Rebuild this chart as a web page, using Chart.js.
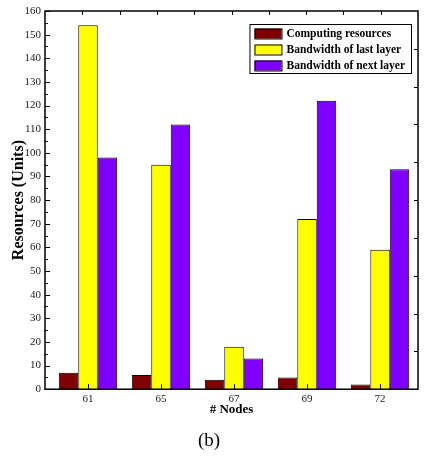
<!DOCTYPE html>
<html>
<head>
<meta charset="utf-8">
<script src="https://cdn.jsdelivr.net/npm/chart.js@4"></script>
<style>
  body { margin: 0; background: #fff; }
  #wrap { width: 425px; height: 462px; }
</style>
</head>
<body>
<div id="wrap"><canvas id="myChart" width="425" height="462"></canvas></div>
<script>
var nodes = ['61', '65', '67', '69', '72'];
var computing = [7, 6, 4, 5, 2];
var lastLayer = [154, 95, 18, 72, 59];
var nextLayer = [98, 112, 13, 122, 93];
var yTicks = { min: 0, max: 160, step: 10 };

var serif = "'Liberation Serif', 'Times New Roman', serif";

function toPoints(arr) {
  return arr.map(function (v, i) { return { x: i, y: v }; });
}

// frame, inward ticks and boxed legend inside the plot
var framePlugin = {
  id: 'frame',
  afterDraw: function (chart) {
    var ctx = chart.ctx;
    var a = chart.chartArea;
    var xs = chart.scales.x, ys = chart.scales.y;
    ctx.save();
    ctx.strokeStyle = '#000';
    ctx.lineWidth = 1;
    ctx.beginPath();
    // left ticks: major every 10, minor at 5
    for (var v = yTicks.min; v <= yTicks.max; v += yTicks.step / 2) {
      var py = Math.round(ys.getPixelForValue(v)) + 0.5;
      var len = (v % yTicks.step === 0) ? 5 : 3;
      ctx.moveTo(a.left, py); ctx.lineTo(a.left + len, py);
    }
    // bottom ticks at categories
    nodes.forEach(function (n, i) {
      var px = Math.round(xs.getPixelForValue(i)) + 0.5;
      ctx.moveTo(px, a.bottom); ctx.lineTo(px, a.bottom - 5);
    });
    // top and right: 10 divisions
    for (var k = 1; k < 10; k++) {
      var tx = Math.round(a.left + (a.right - a.left) * k / 10) + 0.5;
      ctx.moveTo(tx, a.top); ctx.lineTo(tx, a.top + 4);
      var ty = Math.round(a.top + (a.bottom - a.top) * k / 10) + 0.5;
      ctx.moveTo(a.right, ty); ctx.lineTo(a.right - 4, ty);
    }
    ctx.stroke();
    ctx.lineWidth = 1.5;
    ctx.strokeRect(a.left, a.top, a.right - a.left, a.bottom - a.top);

    // legend
    ctx.font = 'bold 11.5px ' + serif;
    var ds = chart.data.datasets;
    var maxW = 0;
    ds.forEach(function (d) { maxW = Math.max(maxW, ctx.measureText(d.label).width); });
    var boxW = 5 + 27 + 5 + maxW + 6;
    var rowH = 16;
    var boxH = ds.length * rowH + 1;
    var bx = a.right - 7 - boxW, by = a.top + 13;
    ctx.fillStyle = '#fff';
    ctx.fillRect(bx, by, boxW, boxH);
    ctx.lineWidth = 1;
    ctx.strokeStyle = '#000';
    ctx.strokeRect(bx + 0.5, by + 0.5, boxW, boxH);
    ctx.textBaseline = 'middle';
    ds.forEach(function (d, i) {
      var cy = by + 9.5 + i * rowH;
      ctx.fillStyle = d.backgroundColor;
      ctx.fillRect(bx + 5, cy - 5, 27, 10);
      ctx.strokeRect(bx + 5.5, cy - 4.5, 27, 10);
      ctx.fillStyle = '#000';
      ctx.fillText(d.label, bx + 37, cy + 0.5);
    });
    ctx.restore();
  }
};

var ctx = document.getElementById('myChart').getContext('2d');
var myChart = new Chart(ctx, {
  type: 'bar',
  data: {
    datasets: [{
      label: 'Computing resources',
      data: toPoints(computing),
      backgroundColor: '#7f0000',
      borderColor: '#000',
      borderWidth: 1
    }, {
      label: 'Bandwidth of last layer',
      data: toPoints(lastLayer),
      backgroundColor: '#ffff00',
      borderColor: '#000',
      borderWidth: 1
    }, {
      label: 'Bandwidth of next layer',
      data: toPoints(nextLayer),
      backgroundColor: '#8000ff',
      borderColor: '#000',
      borderWidth: 1
    }]
  },
  options: {
    responsive: false,
    animation: false,
    categoryPercentage: 0.8,
    barPercentage: 1.0,
    layout: { padding: { left: 0, top: 11, right: 7, bottom: 10 } },
    scales: {
      x: {
        type: 'linear',
        offset: false,
        min: -0.589,
        max: 4.52,
        grid: { display: false, drawTicks: false },
        border: { display: false },
        afterBuildTicks: function (scale) {
          scale.ticks = nodes.map(function (n, i) { return { value: i }; });
        },
        afterFit: function (scale) { scale.height = 30; },
        ticks: {
          padding: 3,
          color: '#222',
          font: { family: serif, size: 11 },
          callback: function (v) { return nodes[v]; }
        },
        title: {
          display: true,
          text: '# Nodes',
          color: '#000',
          font: { family: serif, size: 13, weight: 'bold' },
          padding: { top: 0, bottom: 2 }
        }
      },
      y: {
        min: yTicks.min,
        max: yTicks.max,
        grid: { display: false, drawTicks: false },
        border: { display: false },
        afterFit: function (scale) { scale.width = 45; },
        ticks: {
          stepSize: yTicks.step,
          padding: 4,
          color: '#222',
          font: { family: serif, size: 11 }
        },
        title: {
          display: true,
          text: 'Resources (Units)',
          color: '#000',
          font: { family: serif, size: 16, weight: 'bold' },
          padding: { top: 9, bottom: 0 }
        }
      }
    },
    plugins: {
      legend: { display: false },
      tooltip: { enabled: false },
      title: {
        display: true,
        position: 'bottom',
        text: '(b)',
        color: '#000',
        font: { family: serif, size: 19, weight: 'normal' },
        padding: { top: 10, bottom: 0 }
      }
    }
  },
  plugins: [framePlugin]
});
</script>
</body>
</html>
